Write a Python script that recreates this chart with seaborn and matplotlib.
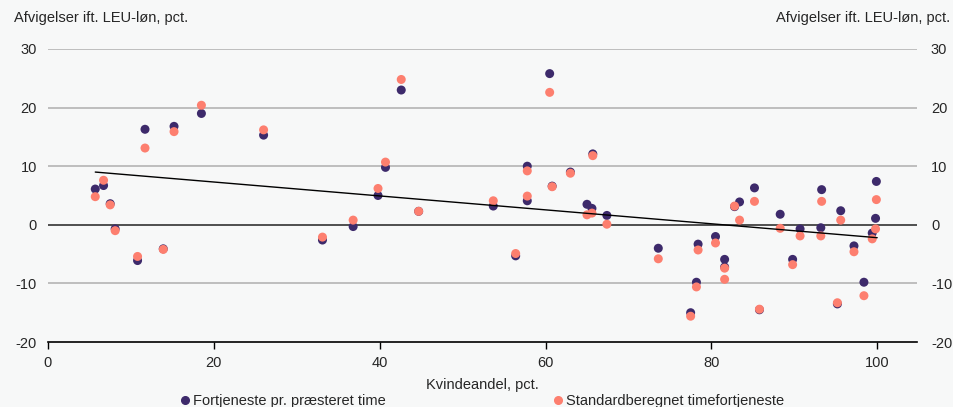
import numpy as np
import pandas as pd
import matplotlib
matplotlib.use("Agg")
import matplotlib.pyplot as plt
import seaborn as sns

# ---- data ----
kvindeandel = [5.7, 6.7, 7.5, 8.1, 10.8, 11.7, 13.9, 15.2, 18.5, 26.0,
               33.1, 36.8, 39.8, 40.7, 42.6, 44.7, 53.7, 56.4, 57.8, 57.8,
               60.5, 60.8, 63.0, 65.0, 65.6, 65.7, 67.4, 73.6, 77.5, 78.2,
               78.4, 80.5, 81.6, 81.6, 82.8, 83.4, 85.2, 85.8, 88.3, 89.8,
               90.7, 93.2, 93.3, 95.2, 95.6, 97.2, 98.4, 99.4, 99.8, 99.9]
fortjeneste = [6.1, 6.7, 3.6, -0.7, -6.1, 16.3, -4.1, 16.8, 19.0, 15.3,
               -2.6, -0.3, 5.0, 9.8, 23.0, 2.3, 3.2, -5.3, 10.0, 4.1,
               25.8, 6.6, 9.0, 3.5, 2.8, 12.1, 1.6, -4.0, -15.0, -9.8,
               -3.3, -2.0, -5.9, -7.2, 3.1, 3.9, 6.3, -14.5, 1.8, -5.9,
               -0.7, -0.5, 6.0, -13.5, 2.4, -3.6, -9.8, -1.4, 1.1, 7.4]
standard = [4.8, 7.6, 3.4, -1.0, -5.4, 13.1, -4.2, 15.9, 20.4, 16.2,
            -2.1, 0.8, 6.2, 10.7, 24.8, 2.3, 4.1, -4.9, 9.2, 4.9,
            22.6, 6.5, 8.8, 1.7, 2.0, 11.8, 0.1, -5.8, -15.6, -10.6,
            -4.3, -3.1, -9.3, -7.4, 3.2, 0.8, 4.0, -14.4, -0.6, -6.8,
            -1.9, -1.9, 4.0, -13.3, 0.8, -4.6, -12.1, -2.4, -0.7, 4.3]
trend_x = [5.7, 100.0]
trend_y = [9.0, -2.2]

series_names = ["Fortjeneste pr. præsteret time", "Standardberegnet timefortjeneste"]
colors = ["#3d2a6b", "#fd7f6f"]
x_ticks = [0, 20, 40, 60, 80, 100]
y_ticks = [-20, -10, 0, 10, 20, 30]
y_label = "Afvigelser ift. LEU-løn, pct."
x_label = "Kvindeandel, pct."

df = pd.DataFrame({
    "x": kvindeandel * 2,
    "y": fortjeneste + standard,
    "serie": [series_names[0]] * len(kvindeandel) + [series_names[1]] * len(kvindeandel),
})

sns.set_theme(style="white")
plt.rcParams["font.family"] = ["Liberation Sans", "DejaVu Sans"]
plt.rcParams["axes.unicode_minus"] = False
bg = "#f7f8f8"
fs = 10.5

fig = plt.figure(figsize=(9.54, 4.07), dpi=100, facecolor=bg)
ax = fig.add_axes([48 / 954, 1 - 342 / 407, (917 - 48) / 954, (342 - 49) / 407])
ax.set_facecolor(bg)

for yv in y_ticks:
    if yv == 0:
        ax.axhline(yv, color="#333333", lw=1.2, zorder=1)
    elif yv != -20:
        ax.axhline(yv, color="#b4b4b4", lw=1.2, zorder=1)

sns.scatterplot(data=df, x="x", y="y", hue="serie", palette=colors,
                hue_order=series_names, s=42, linewidth=0, ax=ax, legend=False, zorder=3)
sns.lineplot(x=trend_x, y=trend_y, color="black", lw=1.0, ax=ax, zorder=4)

ax.set_xlim(0, 104.8)
ax.set_ylim(-20, 30)
ax.set_xticks(x_ticks)
ax.set_yticks(y_ticks)
ax.set_xlabel(x_label, fontsize=fs, labelpad=6)
ax.set_ylabel("")
for s in ["top", "left", "right"]:
    ax.spines[s].set_visible(False)
ax.spines["bottom"].set_color("black")
ax.spines["bottom"].set_linewidth(1.2)
ax.tick_params(axis="x", direction="out", length=5, width=1, color="black",
               labelsize=fs, pad=5, bottom=True)
ax.tick_params(axis="y", length=0, labelsize=fs, pad=8)

ax2 = ax.twinx()
ax2.set_ylim(ax.get_ylim())
ax2.set_yticks(y_ticks)
ax2.tick_params(axis="y", length=0, labelsize=fs, pad=10)
for s in ["top", "left", "right", "bottom"]:
    ax2.spines[s].set_visible(False)

fig.text(14 / 954, 1 - 18 / 407, y_label, fontsize=fs, ha="left", va="center")
fig.text(950 / 954, 1 - 18 / 407, y_label, fontsize=fs, ha="right", va="center")

handles = [plt.Line2D([], [], marker="o", ls="", color=c, markersize=5.5) for c in colors]
fig.legend(handles, series_names, loc="lower center", bbox_to_anchor=(0.506, -0.035),
           ncol=2, frameon=False, fontsize=fs, handletextpad=0.25, handlelength=0.6,
           columnspacing=11.5)

fig.savefig("out.png", dpi=100, facecolor=bg)
